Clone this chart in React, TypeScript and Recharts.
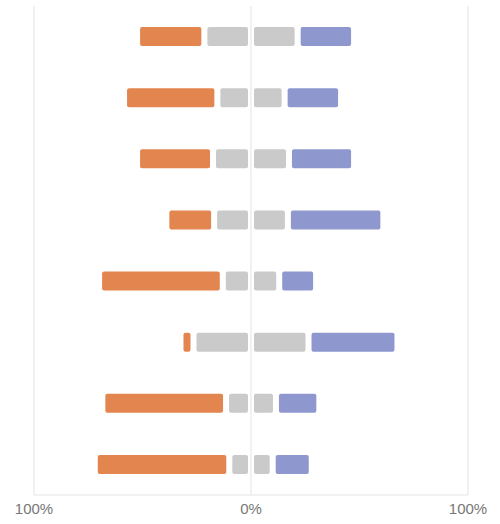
import React from "react";
import { BarChart, Bar, XAxis, YAxis, CartesianGrid } from "recharts";

const categories = ["Item 1", "Item 2", "Item 3", "Item 4", "Item 5", "Item 6", "Item 7", "Item 8"];
const negativeValues = [31, 43, 35, 22, 57, 6, 57, 62];
const neutralValues = [43, 31, 35, 34, 26, 53, 23, 20];
const positiveValues = [26, 26, 30, 44, 17, 41, 20, 18];
const xTicks = [-100, 0, 100];

const data = categories.map((name, i) => ({
  name,
  neutralNeg: -neutralValues[i] / 2,
  negative: -negativeValues[i],
  neutralPos: neutralValues[i] / 2,
  positive: positiveValues[i],
}));

const INSET = 3;

const GapShape = (props: any) => {
  const { x, y, width, height, fill } = props;
  let left = Math.min(x, x + width);
  let w = Math.abs(width);
  if (w > 2 * INSET + 1) {
    left += INSET;
    w -= 2 * INSET;
  } else {
    w = Math.max(w - 1, 1);
  }
  return <rect x={left} y={y} width={w} height={height} fill={fill} rx={2} ry={2} />;
};

export default function App() {
  return (
    <div style={{ position: "absolute", left: 0, top: 0, width: 500, height: 524, background: "#fff" }}>
      <BarChart
        width={500}
        height={524}
        data={data}
        layout="vertical"
        stackOffset="sign"
        margin={{ top: 6, right: 32, left: 34, bottom: 0 }}
        barSize={19}
      >
        <CartesianGrid horizontal={false} stroke="#e3e3e3" />
        <XAxis
          type="number"
          domain={[-100, 100]}
          ticks={xTicks}
          tickFormatter={(v: number) => `${Math.abs(v)}%`}
          axisLine={{ stroke: "#e3e3e3" }}
          tickLine={false}
          height={29}
          tick={{ fill: "#777777", fontSize: 15, fontFamily: "Liberation Sans, Arial, sans-serif" }}
        />
        <YAxis type="category" dataKey="name" hide />
        <Bar dataKey="neutralNeg" stackId="a" fill="#cacaca" shape={GapShape} isAnimationActive={false} />
        <Bar dataKey="negative" stackId="a" fill="#e3854f" shape={GapShape} isAnimationActive={false} />
        <Bar dataKey="neutralPos" stackId="a" fill="#cacaca" shape={GapShape} isAnimationActive={false} />
        <Bar dataKey="positive" stackId="a" fill="#8e98ce" shape={GapShape} isAnimationActive={false} />
      </BarChart>
    </div>
  );
}
